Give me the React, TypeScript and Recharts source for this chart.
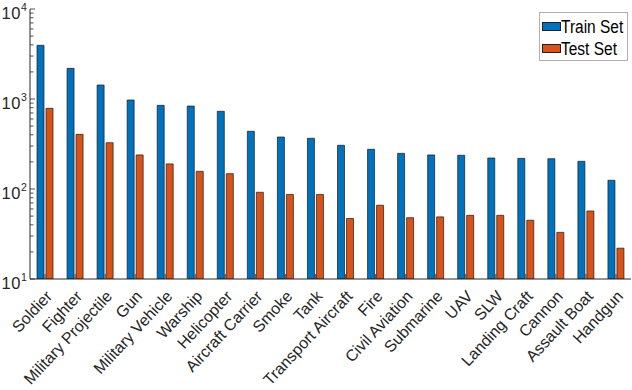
import React from 'react';
import { BarChart, Bar, XAxis, YAxis } from 'recharts';

const categories = [
  'Soldier', 'Fighter', 'Military Projectile', 'Gun', 'Military Vehicle', 'Warship',
  'Helicopter', 'Aircraft Carrier', 'Smoke', 'Tank', 'Transport Aircraft', 'Fire',
  'Civil Aviation', 'Submarine', 'UAV', 'SLW', 'Landing Craft', 'Cannon',
  'Assault Boat', 'Handgun',
];
const trainSet = [3950, 2190, 1430, 975, 850, 835, 730, 438, 378, 366, 306, 276, 249, 239, 237, 221, 219, 217, 203, 125];
const testSet = [788, 405, 327, 239, 190, 157, 148, 92, 87, 87, 47, 66, 48, 49, 51, 51, 45, 33, 57, 22];
const seriesNames = ['Train Set', 'Test Set'];
const seriesColors = ['#0072BD', '#D95319'];

const yMajor = [10, 100, 1000, 10000];
const yTicks = [
  10, 20, 30, 40, 50, 60, 70, 80, 90,
  100, 200, 300, 400, 500, 600, 700, 800, 900,
  1000, 2000, 3000, 4000, 5000, 6000, 7000, 8000, 9000,
  10000,
];

const data = categories.map((name, i) => ({ name, train: trainSet[i], test: testSet[i] }));

const W = 632;
const H = 390;
const MARGIN = { top: 9, right: 1, bottom: 0, left: 0 };
const Y_AXIS_W = 30;
const X_AXIS_H = 111;
// plot box edges, used to draw the inward MATLAB-style ticks
const PLOT = {
  left: MARGIN.left + Y_AXIS_W,
  right: W - MARGIN.right,
  top: MARGIN.top,
  bottom: H - MARGIN.bottom - X_AXIS_H,
};

const FONT = '"Liberation Sans", Arial, Helvetica, sans-serif';
const INK = '#262626';

const LeftTick = (props: any) => {
  const { y, payload } = props;
  const major = yMajor.includes(payload.value);
  const exp = String(Math.round(Math.log10(payload.value)));
  const base = Math.max(y + 10, 18);
  const ex = PLOT.left - 9;
  return (
    <g>
      <line x1={PLOT.left} x2={PLOT.left + (major ? 5 : 3.5)} y1={y} y2={y} stroke={INK} strokeWidth={0.8} />
      {major && (
        <g fill={INK} fontFamily={FONT}>
          <text x={ex} y={base} textAnchor="end" fontSize={16.5} letterSpacing={0.6}>10</text>
          <text x={ex} y={base - 8} textAnchor="start" fontSize={10.5}>{exp}</text>
        </g>
      )}
    </g>
  );
};

const RightTick = (props: any) => {
  const { y, payload } = props;
  const major = yMajor.includes(payload.value);
  return (
    <line x1={PLOT.right} x2={PLOT.right - (major ? 5 : 3.5)} y1={y} y2={y} stroke={INK} strokeWidth={0.8} />
  );
};

const BottomTick = (props: any) => {
  const { x, payload } = props;
  const ax = x + 8;
  const ay = PLOT.bottom + 18;
  return (
    <g>
      <line x1={x} x2={x} y1={PLOT.bottom} y2={PLOT.bottom - 5} stroke={INK} strokeWidth={0.8} />
      <text
        x={ax}
        y={ay}
        textAnchor="end"
        fill={INK}
        fontSize={16}
        fontFamily={FONT}
        transform={`rotate(-47, ${ax}, ${ay})`}
      >
        {payload.value}
      </text>
    </g>
  );
};

const TopTick = (props: any) => {
  const { x } = props;
  return <line x1={x} x2={x} y1={PLOT.top} y2={PLOT.top + 5} stroke={INK} strokeWidth={0.8} />;
};

const LegendBox = () => (
  <div
    style={{
      position: 'absolute',
      left: 539,
      top: 12,
      boxSizing: 'border-box',
      width: 89,
      height: 49,
      border: '1px solid #b0b0b0',
      background: '#fff',
      padding: '2px 0 0 2px',
      fontFamily: FONT,
      color: '#000',
      whiteSpace: 'nowrap',
    }}
  >
    {seriesNames.map((n, i) => (
      <div key={n} style={{ display: 'flex', alignItems: 'center', height: 22 }}>
        <span
          style={{
            boxSizing: 'border-box',
            display: 'inline-block',
            width: 19,
            height: 9,
            background: seriesColors[i],
            border: '1px solid #222',
            flex: 'none',
          }}
        />
        <span
          style={{
            display: 'inline-block',
            fontSize: 18,
            lineHeight: '22px',
            transform: 'scaleX(0.86)',
            transformOrigin: 'left center',
            marginTop: 2,
          }}
        >
          {n}
        </span>
      </div>
    ))}
  </div>
);

export default function App() {
  return (
    <div style={{ position: 'relative', width: W, height: H, background: '#fff' }}>
      <style>{'html, body { margin: 0; padding: 0; }'}</style>
      <BarChart width={W} height={H} data={data} margin={MARGIN} barSize={7} barGap={2}>
        <XAxis
          xAxisId="bottom"
          dataKey="name"
          height={X_AXIS_H}
          interval={0}
          tickSize={0}
          tickMargin={0}
          tickLine={false}
          axisLine={{ stroke: INK, strokeWidth: 1 }}
          tick={<BottomTick />}
        />
        <XAxis
          xAxisId="top"
          orientation="top"
          dataKey="name"
          height={0}
          interval={0}
          tickSize={0}
          tickMargin={0}
          tickLine={false}
          axisLine={{ stroke: INK, strokeWidth: 1 }}
          tick={<TopTick />}
        />
        <YAxis
          yAxisId="left"
          scale="log"
          domain={[10, 10000]}
          allowDataOverflow
          ticks={yTicks}
          interval={0}
          width={Y_AXIS_W}
          tickSize={0}
          tickMargin={0}
          tickLine={false}
          axisLine={{ stroke: INK, strokeWidth: 1 }}
          tick={<LeftTick />}
        />
        <YAxis
          yAxisId="right"
          orientation="right"
          scale="log"
          domain={[10, 10000]}
          allowDataOverflow
          ticks={yTicks}
          interval={0}
          width={0}
          tickSize={0}
          tickMargin={0}
          tickLine={false}
          axisLine={{ stroke: INK, strokeWidth: 1 }}
          tick={<RightTick />}
        />
        <Bar
          xAxisId="bottom"
          yAxisId="left"
          dataKey="train"
          name={seriesNames[0]}
          fill={seriesColors[0]}
          stroke="#1a1a1a"
          strokeWidth={0.7}
          isAnimationActive={false}
        />
        <Bar
          xAxisId="bottom"
          yAxisId="left"
          dataKey="test"
          name={seriesNames[1]}
          fill={seriesColors[1]}
          stroke="#1a1a1a"
          strokeWidth={0.7}
          isAnimationActive={false}
        />
      </BarChart>
      <LegendBox />
    </div>
  );
}
